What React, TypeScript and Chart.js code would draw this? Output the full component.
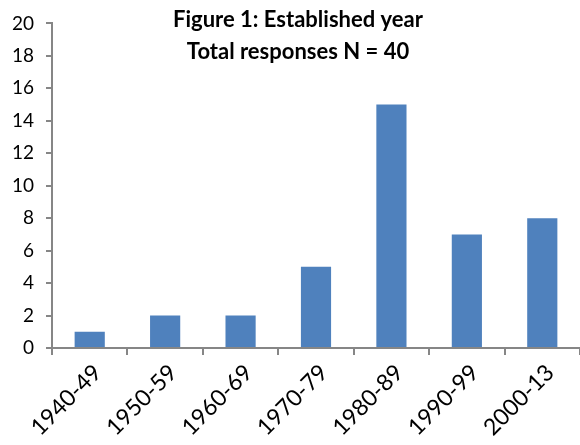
import React, { useEffect, useRef } from "react";
import { Chart, registerables } from "chart.js";

Chart.register(...registerables);

const categories = ["1940-49", "1950-59", "1960-69", "1970-79", "1980-89", "1990-99", "2000-13"];
const responses = [1, 2, 2, 5, 15, 7, 8];
const titleLines = ["Figure 1: Established year", "Total responses N = 40"];

const FONT = "Lato, 'Open Sans', sans-serif";
const AXIS_GREY = "#868686";

const titlePlugin = {
  id: "overlayTitle",
  afterDraw(chart: Chart) {
    const ctx = chart.ctx;
    ctx.save();
    ctx.fillStyle = "#000";
    ctx.font = `bold 22px ${FONT}`;
    ctx.textAlign = "center";
    ctx.textBaseline = "middle";
    titleLines.forEach((line, i) => ctx.fillText(line, 298, 20 + i * 32));
    ctx.restore();
  },
};

export default function App() {
  const ref = useRef<HTMLCanvasElement>(null);

  useEffect(() => {
    if (!ref.current) return;
    const chart = new Chart(ref.current, {
      type: "bar",
      data: {
        labels: categories,
        datasets: [
          {
            data: responses,
            backgroundColor: "#4F81BD",
            barPercentage: 0.4,
            categoryPercentage: 1,
          },
        ],
      },
      options: {
        animation: false,
        responsive: false,
        layout: { padding: { top: 22, right: 0, left: 0, bottom: 0 } },
        plugins: { legend: { display: false }, tooltip: { enabled: false }, title: { display: false } },
        scales: {
          x: {
            offset: true,
            grid: {
              offset: true,
              drawOnChartArea: false,
              drawTicks: true,
              tickLength: 7,
              color: AXIS_GREY,
              lineWidth: 2,
            },
            border: { display: true, color: AXIS_GREY, width: 2 },
            ticks: {
              maxRotation: 45,
              minRotation: 45,
              color: "#000",
              font: { family: FONT, size: 23 },
              padding: 4,
              labelOffset: 8,
            },
            afterFit(scale: any) {
              scale.height = 97;
            },
          },
          y: {
            min: 0,
            max: 20,
            ticks: {
              stepSize: 2,
              color: "#000",
              font: { family: FONT, size: 19 },
              padding: 12,
            },
            grid: {
              drawOnChartArea: false,
              drawTicks: true,
              tickLength: 6,
              color: AXIS_GREY,
              lineWidth: 2,
            },
            border: { display: true, color: AXIS_GREY, width: 2 },
            afterFit(scale: any) {
              scale.width = 52;
            },
          },
        },
      },
      plugins: [titlePlugin],
    });
    return () => chart.destroy();
  }, []);

  return (
    <div style={{ position: "fixed", left: 0, top: 0, width: 580, height: 445, background: "#fff" }}>
      <canvas ref={ref} width={580} height={445} />
    </div>
  );
}
